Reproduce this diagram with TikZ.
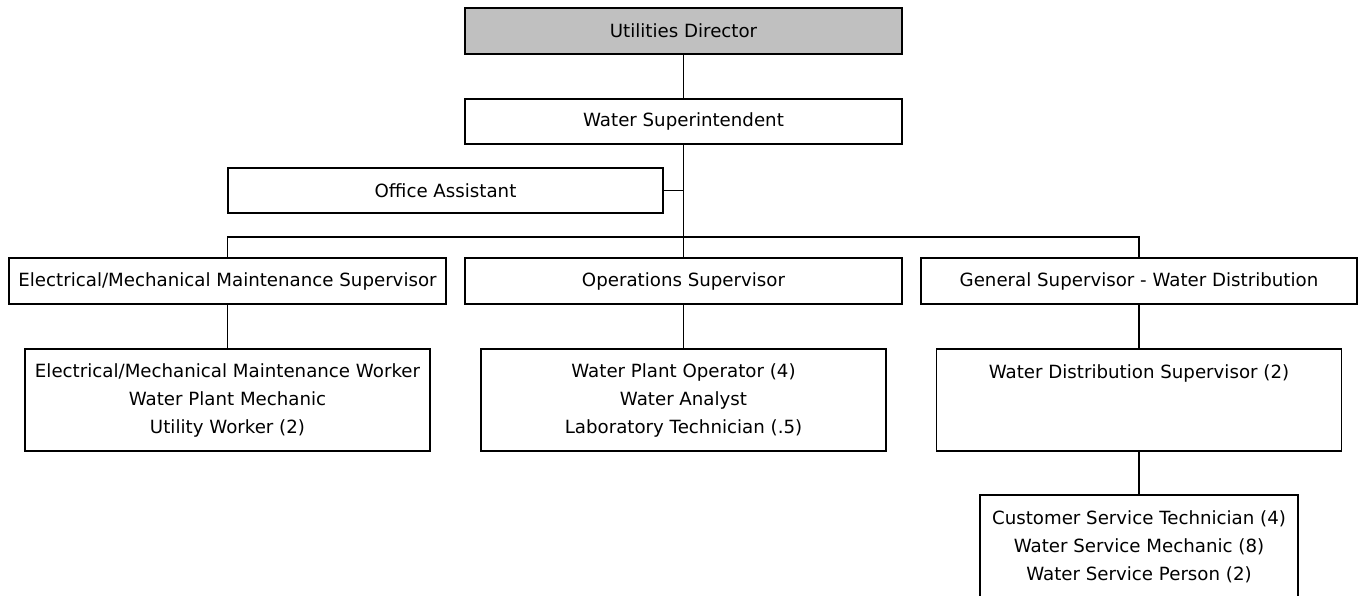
\documentclass[tikz,border=0pt]{standalone}
\usepackage{fontspec}
\setmainfont{DejaVu Sans}
\begin{document}
\begin{tikzpicture}[x=1pt,y=-1pt,
  box/.style={draw=black, line width=1.6pt, fill=white, rectangle, inner sep=0pt, align=center,
    font=\fontsize{18.2}{28}\selectfont},
  conn/.style={draw=black, line width=1.6pt}]
\useasboundingbox (0,0) rectangle (1359,595);
\begin{scope}
\clip (0,0) rectangle (1359,595);
\node[box, fill={rgb,255:red,192;green,192;blue,192}, minimum width=437pt, minimum height=46pt] (ud) at (683.5,31) {Utilities Director};
\node[box, minimum width=437pt, minimum height=45pt] (ws) at (683.5,121.5) {Water Superintendent};
\node[box, minimum width=435pt, minimum height=45pt] (oa) at (445.5,190.5) {Office Assistant};
\node[box, minimum width=437pt, minimum height=46pt] (ems) at (227.5,281) {Electrical/Mechanical Maintenance Supervisor};
\node[box, minimum width=437pt, minimum height=46pt] (ops) at (683.5,281) {Operations Supervisor};
\node[box, minimum width=436pt, minimum height=46pt] (gs) at (1139,281) {General Supervisor - Water Distribution};
\node[box, minimum width=405pt, minimum height=102pt] (emw) at (227.5,400) {Electrical/Mechanical Maintenance Worker\\Water Plant Mechanic\\Utility Worker (2)};
\node[box, minimum width=405pt, minimum height=102pt] (opw) at (683.5,400) {Water Plant Operator (4)\\Water Analyst\\Laboratory Technician (.5)};
\node[box, minimum width=405pt, minimum height=102pt] (wds) at (1139,400) {Water Distribution Supervisor (2)\\\mbox{}\\\mbox{}};
\node[box, minimum width=318pt, minimum height=103pt] (cst) at (1139,546.5) {Customer Service Technician (4)\\Water Service Mechanic (8)\\Water Service Person (2)};
\coordinate (bus) at (683.5,237);
\draw[conn] (ud.south) -- (ws.north);
\draw[conn] (ws.south) -- (bus);
\draw[conn] (oa.east) -- (ws.south |- oa.east);
\draw[conn] (ems.north) |- (bus) -| (gs.north);
\draw[conn] (bus) -- (ops.north);
\draw[conn] (ems.south) -- (emw.north);
\draw[conn] (ops.south) -- (opw.north);
\draw[conn] (gs.south) -- (wds.north);
\draw[conn] (wds.south) -- (cst.north);
\end{scope}
\end{tikzpicture}
\end{document}
